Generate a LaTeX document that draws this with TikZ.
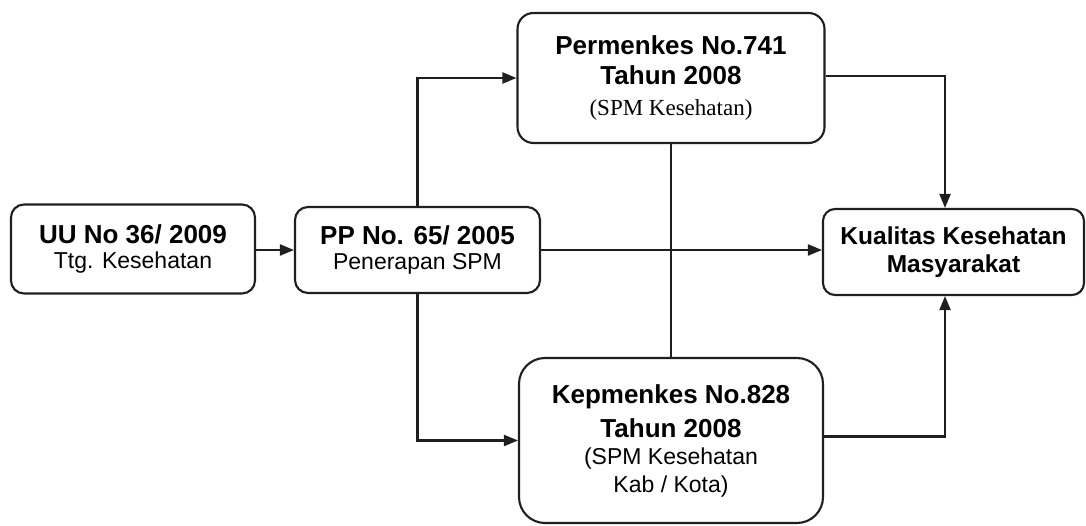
\documentclass[tikz,border=0pt]{standalone}
\usepackage{fontspec}
\setmainfont{Liberation Sans}
\newfontfamily\serifface{Liberation Serif}
\usetikzlibrary{arrows.meta}
\newcommand\boxtitle[1]{{\fontsize{26}{28}\selectfont\bfseries #1}}
\newcommand\boxsubtitle[1]{{\fontsize{23}{26}\selectfont #1}}
\begin{document}
\begin{tikzpicture}[x=1pt,y=-1pt,
  box/.style={draw=black!88, line width=2.1pt, rounded corners=13pt, align=center,
    inner sep=0pt, text=black, font=\fontsize{26}{28}\selectfont},
  conn/.style={draw=black!88, line width=2.1pt},
  arr/.style={conn, -{Triangle[length=14pt,width=11pt]}}]
\fill[white] (0,0) rectangle (1086,526);
\useasboundingbox (0,0) rectangle (1086,526);

\node[box, minimum width=244pt, minimum height=89pt] (uu) at (133,249)
  {\boxtitle{UU No 36/ 2009}\\[-3pt]\boxsubtitle{Ttg. Kesehatan}};
\node[box, minimum width=245pt, minimum height=86pt] (pp) at (417.5,250)
  {\boxtitle{PP No. 65/ 2005}\\[-3pt]\boxsubtitle{Penerapan SPM}};
\node[box, minimum width=307pt, minimum height=130pt, rounded corners=16pt] (perm) at (671,78)
  {\boxtitle{Permenkes No.741}\\[2pt]\boxtitle{Tahun 2008}\\[3pt]{\serifface\fontsize{23}{26}\selectfont (SPM Kesehatan)}};
\node[box, minimum width=304pt, minimum height=165pt, rounded corners=26pt] (kep) at (671,440.5)
  {\boxtitle{Kepmenkes No.828}\\[6pt]\boxtitle{Tahun 2008}\\[-1pt]\boxsubtitle{(SPM Kesehatan}\\[0pt]\boxsubtitle{Kab / Kota)}};
\node[box, minimum width=261pt, minimum height=86pt, rounded corners=12pt,
  font=\fontsize{24.5}{28}\selectfont\bfseries] (kual) at (953.5,252)
  {Kualitas Kesehatan\\Masyarakat};

\coordinate (kx) at (945,0);

\draw[arr] (uu.east |- pp.west) -- (pp.west);
\draw[arr] (pp.north) |- (perm.west);
\draw[arr] (pp.south) |- (kep.west);
\draw[arr] (pp.east) -- (pp.east -| kual.west);
\draw[conn] (perm.south) -- (kep.north);
\draw[arr] ([yshift=2pt]perm.east) -| (kx |- kual.north);
\draw[arr] ([yshift=4pt]kep.east) -| (kx |- kual.south);
\end{tikzpicture}
\end{document}
